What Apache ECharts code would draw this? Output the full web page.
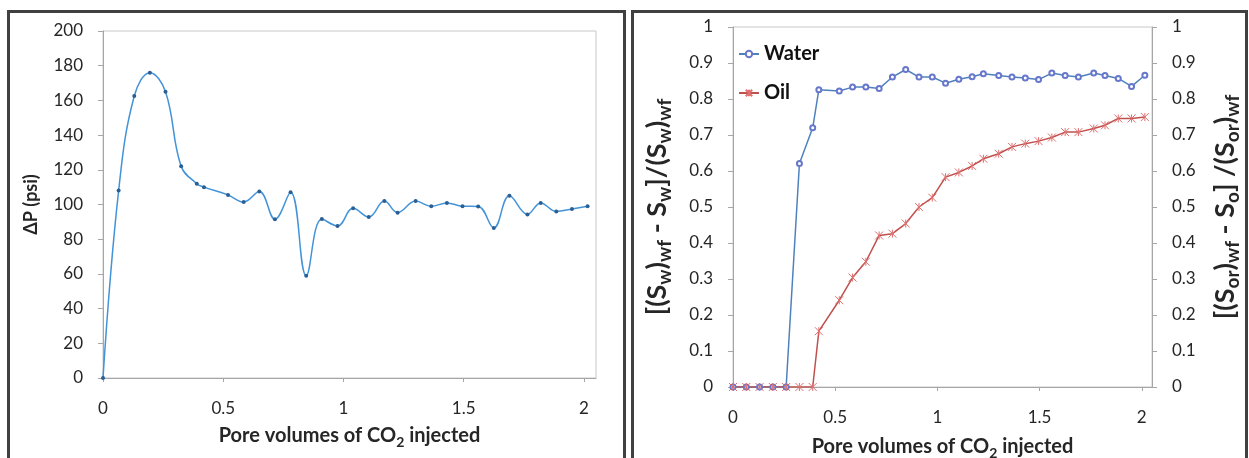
<!DOCTYPE html>
<html>
<head>
<meta charset="utf-8">
<script src="https://cdn.jsdelivr.net/npm/echarts@6/dist/echarts.min.js"></script>
<style>
html,body{margin:0;padding:0;background:#fff;}
#c{width:1249px;height:458px;}
</style>
</head>
<body>
<div id="c"></div>
<script>
// Pore volumes of CO2 injected (shared x values)
const pv = [0,0.065,0.13,0.195,0.26,0.325,0.39,0.42,0.52,0.585,0.65,0.715,0.78,0.845,0.91,0.975,1.04,1.105,1.17,1.225,1.3,1.365,1.43,1.495,1.56,1.625,1.69,1.765,1.82,1.885,1.95,2.015];
// Left chart: pressure drop (psi)
const dP = [0,108,162.5,176,165,122,112,110,105.5,101.4,107.5,91.5,107,59,91.6,87.6,97.8,92.8,102,95.3,102,99,100.9,99,98.9,86.5,105,94.3,100.9,96,97.4,99];
// Right chart
const water = [0,0,0,0,0,0.621,0.72,0.826,0.822,0.833,0.833,0.829,0.861,0.882,0.861,0.861,0.844,0.855,0.862,0.87,0.865,0.861,0.858,0.854,0.872,0.865,0.861,0.872,0.865,0.857,0.835,0.866];
const oil = [0,0,0,0,0,0,0,0.155,0.241,0.304,0.348,0.421,0.426,0.454,0.5,0.526,0.583,0.596,0.614,0.634,0.648,0.667,0.676,0.683,0.693,0.708,0.708,0.718,0.727,0.746,0.746,0.75];
const xTicks = [0,0.5,1,1.5,2];
const seriesNames = ['Water','Oil'];

const FONT = 'Lato';
const labelColor = '#262626';
const axisGray = '#a6a6a6';
const pair = (ys) => pv.map((x,i)=>[x, ys[i]]);

function richSet(main, subSize){
  return {
    b: {fontFamily: FONT, fontWeight: 'bold', fontSize: main, color: labelColor, lineHeight: main + 6},
    s: {fontFamily: FONT, fontWeight: 'bold', fontSize: subSize, color: labelColor, lineHeight: subSize, verticalAlign: 'bottom'}
  };
}

function xAxisCfg(gridIndex, nameGap){
  return {
    type: 'value', gridIndex, min: 0, max: 2.05,
    axisLine: {show: true, lineStyle: {color: axisGray, width: 1}},
    axisTick: {show: true, length: 4, customValues: xTicks, lineStyle: {color: axisGray}},
    axisLabel: {customValues: xTicks, margin: 22, fontFamily: FONT, fontSize: 17, color: labelColor},
    splitLine: {show: false},
    name: '{b|Pore volumes of CO}{s|2}{b| injected}',
    nameLocation: 'middle', nameGap,
    nameTextStyle: {fontFamily: FONT, fontWeight: 'bold', fontSize: 20, color: labelColor, rich: richSet(20, 14)}
  };
}
function yAxisCfg(gridIndex, min, max, interval, name, position, nameGap, nameStyle){
  return {
    type: 'value', gridIndex, min, max, interval, position,
    axisLine: {show: true, lineStyle: {color: axisGray, width: 1}},
    axisTick: {show: true, length: 5, lineStyle: {color: axisGray}},
    axisLabel: {margin: 20, fontFamily: FONT, fontSize: 17, color: labelColor},
    splitLine: {show: false},
    name, nameLocation: 'middle', nameGap, nameRotate: 90,
    nameTextStyle: nameStyle
  };
}

const chart = echarts.init(document.getElementById('c'), null, {renderer: 'canvas'});
chart.setOption({
  animation: false,
  backgroundColor: '#fff',
  grid: [
    {left: 103, right: 653, top: 31, bottom: 80, outerBoundsMode: 'none', containLabel: false, show: true, borderColor: '#c8c8c8', borderWidth: 1, backgroundColor: 'transparent'},
    {left: 733, right: 97, top: 27, bottom: 71, outerBoundsMode: 'none', containLabel: false, show: true, borderColor: '#c8c8c8', borderWidth: 1, backgroundColor: 'transparent'}
  ],
  xAxis: [xAxisCfg(0, 45), xAxisCfg(1, 47)],
  yAxis: [
    yAxisCfg(0, 0, 200, 20, 'ΔP (psi)', 'left', 63,
      {fontFamily: FONT, fontWeight: 'bold', fontSize: 18, color: labelColor}),
    yAxisCfg(1, 0, 1, 0.1, '{b|[(S}{s|w}{b|)}{s|wf}{b| - S}{s|w}{b|]/(S}{s|w}{b|)}{s|wf}', 'left', 59,
      {fontFamily: FONT, fontWeight: 'bold', fontSize: 27, color: labelColor, rich: richSet(27, 19)}),
    yAxisCfg(1, 0, 1, 0.1, '{b|[(S}{s|or}{b|)}{s|wf}{b| - S}{s|o}{b|] /(S}{s|or}{b|)}{s|wf}', 'right', 57,
      {fontFamily: FONT, fontWeight: 'bold', fontSize: 27, color: labelColor, rich: richSet(27, 19)})
  ],
  legend: {
    data: seriesNames,
    orient: 'vertical', left: 733, top: 39, itemGap: 19,
    itemWidth: 20, itemHeight: 8,
    textStyle: {fontFamily: FONT, fontWeight: 'bold', fontSize: 20, color: '#111'}
  },
  graphic: [
    {type: 'rect', shape: {x: 8.5, y: 11.5, width: 616, height: 470}, style: {fill: 'none', stroke: '#404040', lineWidth: 3}, z: 100},
    {type: 'rect', shape: {x: 632.5, y: 11.5, width: 614, height: 470}, style: {fill: 'none', stroke: '#404040', lineWidth: 3}, z: 100}
  ],
  series: [
    {
      name: 'dP', type: 'line', xAxisIndex: 0, yAxisIndex: 0,
      data: pair(dP), smooth: 0.4,
      lineStyle: {color: '#4393d8', width: 1.5},
      symbol: 'circle', symbolSize: 4,
      itemStyle: {color: '#2a5f95'}
    },
    {
      name: 'Water', type: 'line', xAxisIndex: 1, yAxisIndex: 1,
      data: pair(water),
      lineStyle: {color: '#4f81bd', width: 1.5},
      symbol: 'emptyCircle', symbolSize: 5,
      itemStyle: {color: '#6677cc', borderColor: '#6677cc', borderWidth: 1}
    },
    {
      name: 'Oil', type: 'line', xAxisIndex: 1, yAxisIndex: 1,
      data: pair(oil),
      lineStyle: {color: '#c0504d', width: 1.5},
      symbol: 'path://M0,0L10,10M10,0L0,10M5,0L5,10', symbolSize: 8,
      itemStyle: {color: 'rgba(0,0,0,0)', borderColor: '#e07070', borderWidth: 1}
    }
  ]
});
</script>
</body>
</html>
